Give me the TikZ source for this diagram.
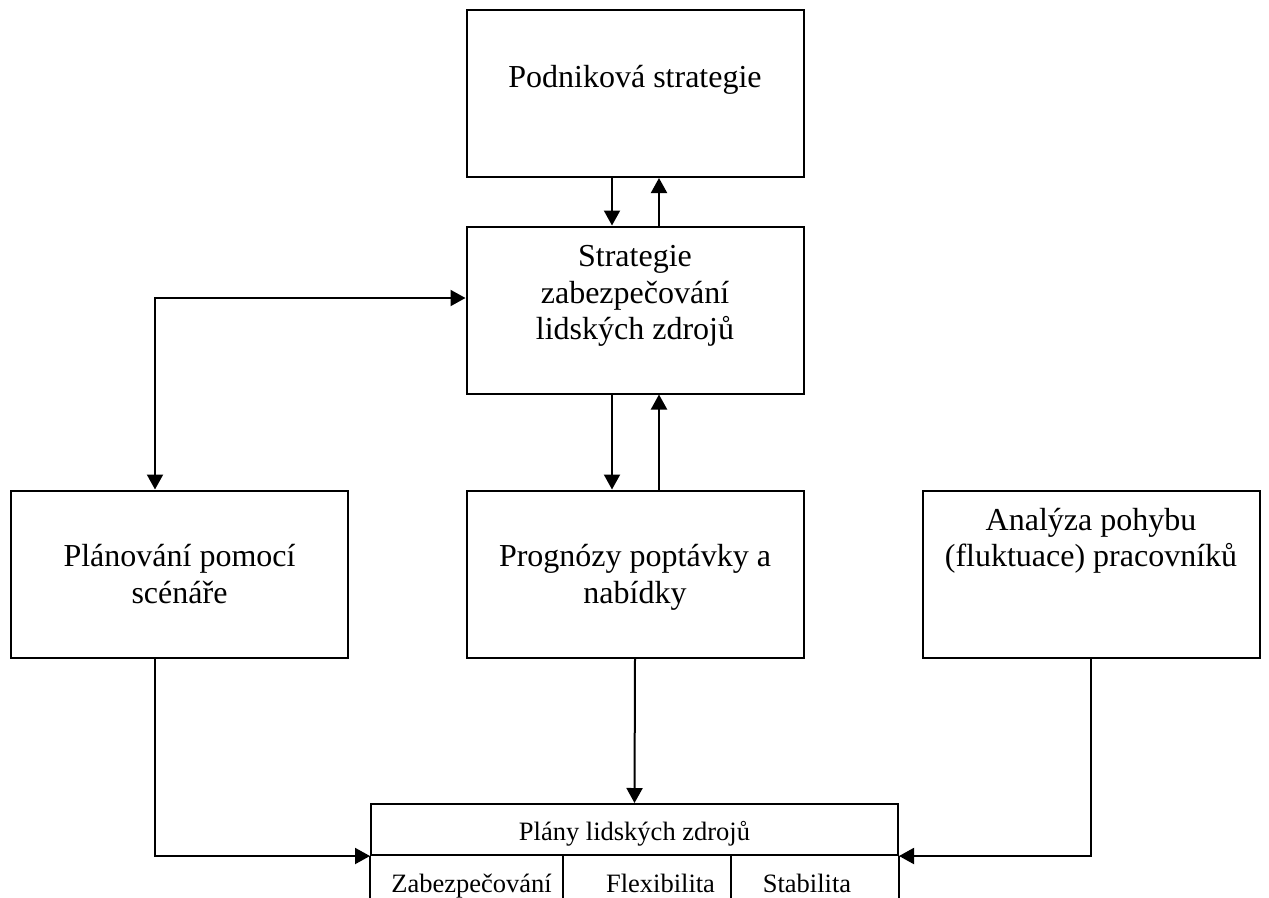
\documentclass[tikz,border=0pt]{standalone}
\usepackage{fontspec}
\setmainfont{Liberation Serif}
\usetikzlibrary{arrows.meta,positioning}

\tikzset{
  box/.style={draw, line width=2pt, minimum width=337pt, minimum height=167pt, inner sep=0pt},
  boxtext/.style={font=\fontsize{32}{36.5}\selectfont, align=center, inner sep=0pt},
  celltext/.style={font=\fontsize{26.5}{30}\selectfont, inner sep=0pt},
  link/.style={line width=2pt, ->},
  rule/.style={line width=2pt},
}

\begin{document}
\begin{tikzpicture}[x=1pt, y=-1pt, >={Triangle[length=15pt,width=16pt]}]
  \useasboundingbox (0,0) rectangle (1269,897);
  \clip (0,0) rectangle (1269,897);

  % boxes
  \node[box] (podnik) at (635,93.5) {};
  \node[box] (zabstrat) at (635,310) {};
  \node[box] (scenar) at (179.5,574) {};
  \node[box] (prognoza) at (635,574) {};
  \node[box] (fluktuace) at (1091,574) {};

  \node[boxtext] (podnik-t) at ([yshift=14pt]podnik.center) {Podniková strategie};
  \node[boxtext] (zabstrat-t) at ([yshift=14pt]zabstrat.center)
    {Strategie\\zabezpečování\\lidských zdrojů};
  \node[boxtext] (scenar-t) at (scenar.center) {Plánování pomocí\\scénáře};
  \node[boxtext] (prognoza-t) at ([yshift=-3.5pt]prognoza.center)
    {Prognózy poptávky a\\nabídky};
  \node[boxtext] (fluktuace-t) at ([yshift=33pt]fluktuace.center)
    {Analýza pohybu\\(fluktuace) pracovníků};

  % table of plans
  \node[draw, rule, celltext, minimum width=527pt, minimum height=51pt,
    text height=24pt, text depth=3pt] (plany) at (634.5,829.5) {Plány lidských zdrojů};
  \draw[rule] (plany.south west) -- ++(0,50);
  \draw[rule] (plany.south east) -- ++(0,50);
  \draw[rule] (563,855) -- (563,905);
  \draw[rule] (731,855) -- (731,905);
  \node[celltext, anchor=base] (zab) at (471.5,892) {Zabezpečování};
  \node[celltext, anchor=base] (flex) at (660.5,892) {Flexibilita};
  \node[celltext, anchor=base] (stab) at (807,892) {Stabilita};

  % connectors
  \draw[link] ([xshift=-23pt]podnik.south) -- ([xshift=-23pt]zabstrat.north);
  \draw[link] ([xshift=24pt]zabstrat.north) -- ([xshift=24pt]podnik.south);
  \draw[link] ([xshift=-23pt]zabstrat.south) -- ([xshift=-23pt]prognoza.north);
  \draw[link] ([xshift=24pt]prognoza.north) -- ([xshift=24pt]zabstrat.south);
  \draw[link, <->] ([xshift=-24.5pt]scenar.north) |- ([yshift=12pt]zabstrat.west);
  \draw[link] ([xshift=-24.5pt]scenar.south) |- (plany.south west);
  \draw[link] (prognoza.south) -- (plany.north);
  \draw[link] (fluktuace.south) |- (plany.south east);
\end{tikzpicture}
\end{document}
